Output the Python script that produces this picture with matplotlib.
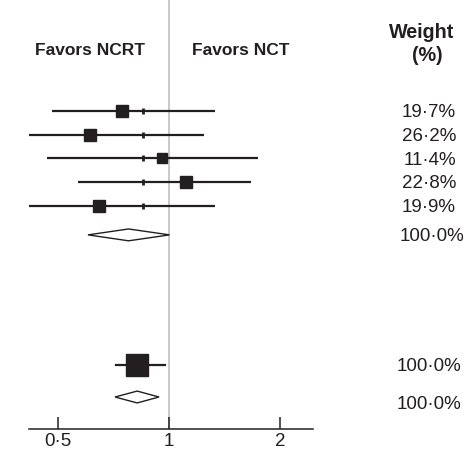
import numpy as np
import matplotlib
matplotlib.use('Agg')
import matplotlib.pyplot as plt
from matplotlib.patches import Polygon
from matplotlib.transforms import blended_transform_factory

plt.rcParams['font.family'] = ['Liberation Sans', 'DejaVu Sans']

# study rows
est = [0.749, 0.610, 0.960, 1.113, 0.649]
lo = [0.482, 0.419, 0.468, 0.566, 0.419]
hi = [1.337, 1.248, 1.746, 1.671, 1.337]
weights = [19.7, 26.2, 11.4, 22.8, 19.9]
weight_labels = ['19·7%', '26·2%', '11·4%', '22·8%', '19·9%']

# pooled random-effects diamond
pooled = (0.604, 0.778, 1.005)
pooled_ref = 0.853

# lower block: single square and diamond
sub_est, sub_lo, sub_hi = 0.821, 0.720, 0.974
sub_weight = 100.0
sub_diamond = (0.715, 0.821, 0.941)

xticks = [0.5, 1, 2]
xtick_labels = ['0·5', '1', '2']

INK = '#231f20'
DPI = 100
FS = 13.5

fig = plt.figure(figsize=(4.74, 4.54), dpi=DPI)
ax = fig.add_axes([29 / 474, 25 / 454, (313 - 29) / 474, 429 / 454])
ax.set_xscale('log', base=2)
ax.set_xlim(0.418, 2.46)
ax.set_ylim(13.42, -4.68)

for s in ['top', 'right', 'left']:
    ax.spines[s].set_visible(False)
ax.spines['bottom'].set_color(INK)
ax.spines['bottom'].set_linewidth(1.1)
ax.set_yticks([])
ax.set_xticks(xticks)
ax.set_xticklabels(xtick_labels, fontsize=FS, color=INK)
ax.minorticks_off()
ax.tick_params(axis='x', direction='in', length=8.5, width=1.1, color=INK, pad=3)

ax.axvline(1, color='#c8c8c8', lw=1.4, zorder=0)


def sq_size(w):
    return (1.9 * np.sqrt(w) + 3) * 72 / DPI


rows = np.arange(len(est))
for y, e, l, h, w in zip(rows, est, lo, hi, weights):
    ax.plot([l, h], [y, y], color=INK, lw=1.6, solid_capstyle='butt', zorder=2)
    ax.plot([pooled_ref], [y], marker='|', ms=5, mew=2, color=INK, zorder=3)
    ax.plot([e], [y], marker='s', ms=sq_size(w), color=INK, mec=INK, zorder=4)


def diamond(lo_, mid, hi_, y, half=0.25):
    poly = Polygon([[lo_, y], [mid, y - half], [hi_, y], [mid, y + half]],
                   closed=True, facecolor='white', edgecolor=INK, lw=1.0, zorder=3)
    ax.add_patch(poly)


diamond(*pooled, 5.23)

y_sub = 10.72
ax.plot([sub_lo, sub_hi], [y_sub, y_sub], color=INK, lw=1.6, zorder=2)
ax.plot([sub_est], [y_sub], marker='s', ms=sq_size(sub_weight), color=INK, zorder=4)
diamond(*sub_diamond, 12.07)

# headers
ax.text(0.61, -2.55, 'Favors NCRT', ha='center', va='center', fontsize=12.5,
        fontweight='bold', color=INK)
ax.text(1.57, -2.55, 'Favors NCT', ha='center', va='center', fontsize=12.5,
        fontweight='bold', color=INK)

tr = blended_transform_factory(fig.transFigure, ax.transData)
ax.text(422 / 474, -3.29, 'Weight', transform=tr, ha='center', va='center',
        fontsize=14.2, fontweight='bold', color=INK)
ax.text(427 / 474, -2.32, '(%)', transform=tr, ha='center', va='center',
        fontsize=14.2, fontweight='bold', color=INK)

for y, lab in zip(rows, weight_labels):
    ax.text(456 / 474, y + 0.08, lab, transform=tr, ha='right', va='center',
            fontsize=FS, color=INK)
ax.text(464 / 474, 5.3, '100·0%', transform=tr, ha='right', va='center',
        fontsize=FS, color=INK)
ax.text(461 / 474, 10.8, '100·0%', transform=tr, ha='right', va='center',
        fontsize=FS, color=INK)
ax.text(461 / 474, 12.4, '100·0%', transform=tr, ha='right', va='center',
        fontsize=FS, color=INK)

fig.savefig('out.png', dpi=DPI)
